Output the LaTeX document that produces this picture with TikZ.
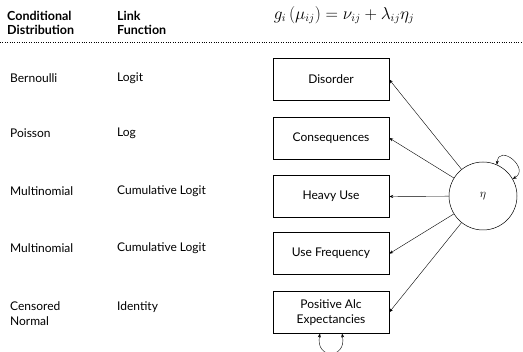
\documentclass[tikz,border=0pt]{standalone}
\usepackage{fontspec}
\setmainfont{Lato}
\usetikzlibrary{arrows.meta}
\begin{document}
\begin{tikzpicture}[x=1pt,y=-1pt,
  lbl/.style={anchor=west,inner sep=0pt,font=\fontsize{12}{15}\selectfont,align=left},
  hdr/.style={anchor=west,inner sep=0pt,font=\fontsize{12.5}{15}\selectfont\bfseries,align=left},
  var/.style={draw,line width=0.5pt,minimum width=116pt,minimum height=42pt,inner sep=1pt,align=center,font=\fontsize{12}{15}\selectfont},
  arr/.style={-{Stealth[length=4pt,width=3pt]},line width=0.4pt}]
\useasboundingbox (0,0) rectangle (523,352);
\node[hdr] (h1) at (7,23) {Conditional\\[-1pt]Distribution};
\node[hdr] (h2) at (117,23) {Link\\[-1pt]Function};
\node[inner sep=0pt] (eq) at (344,15) {\fontsize{16}{18}\selectfont$g_i\left(\mu_{ij}\right)=\nu_{ij}+\lambda_{ij}\eta_j$};
\coordinate (d1) at (0,42);
\coordinate (d2) at (523,42);
\draw[line width=0.8pt,dash pattern=on 0.8pt off 1.6pt] (d1) -- (d2);

\node[var] (b1) at (331,79.5) {Disorder};
\node[var] (b2) at (331,138) {Consequences};
\node[var] (b3) at (331,196.5) {Heavy Use};
\node[var] (b4) at (331,253.7) {Use Frequency};
\node[var] (b5) at (331,312.3) {Positive Alc\\Expectancies};

\node[draw,circle,minimum size=68pt,inner sep=0pt,line width=0.5pt,font=\fontsize{12}{14}\selectfont] (eta) at (483,196) {$\eta$};

\foreach \b in {b1,b2,b3,b4,b5}{\draw[arr] (eta) -- (\b.east);}
\draw[arr,{Stealth[length=4pt,width=3pt]}-{Stealth[length=4pt,width=3pt]}] (eta.66) .. controls +(2,-22) and +(18,-10) .. (eta.30);
\draw[arr,{Stealth[length=4pt,width=3pt]}-{Stealth[length=4pt,width=3pt]}] ([xshift=-11pt]b5.south) .. controls +(-5,26) and +(5,26) .. ([xshift=11pt]b5.south);

\node[lbl] (c1) at (10,78) {Bernoulli};
\node[lbl] (l1) at (117,78) {Logit};
\node[lbl] (c2) at (10,133) {Poisson};
\node[lbl] (l2) at (117,133) {Log};
\node[lbl] (c3) at (10,191) {Multinomial};
\node[lbl] (l3) at (117,191) {Cumulative Logit};
\node[lbl] (c4) at (10,248.5) {Multinomial};
\node[lbl] (l4) at (117,248.5) {Cumulative Logit};
\node[lbl,anchor=north west] (c5) at (10,301) {Censored\\Normal};
\node[lbl,anchor=north west] (l5) at (117,301) {Identity};
\end{tikzpicture}
\end{document}
